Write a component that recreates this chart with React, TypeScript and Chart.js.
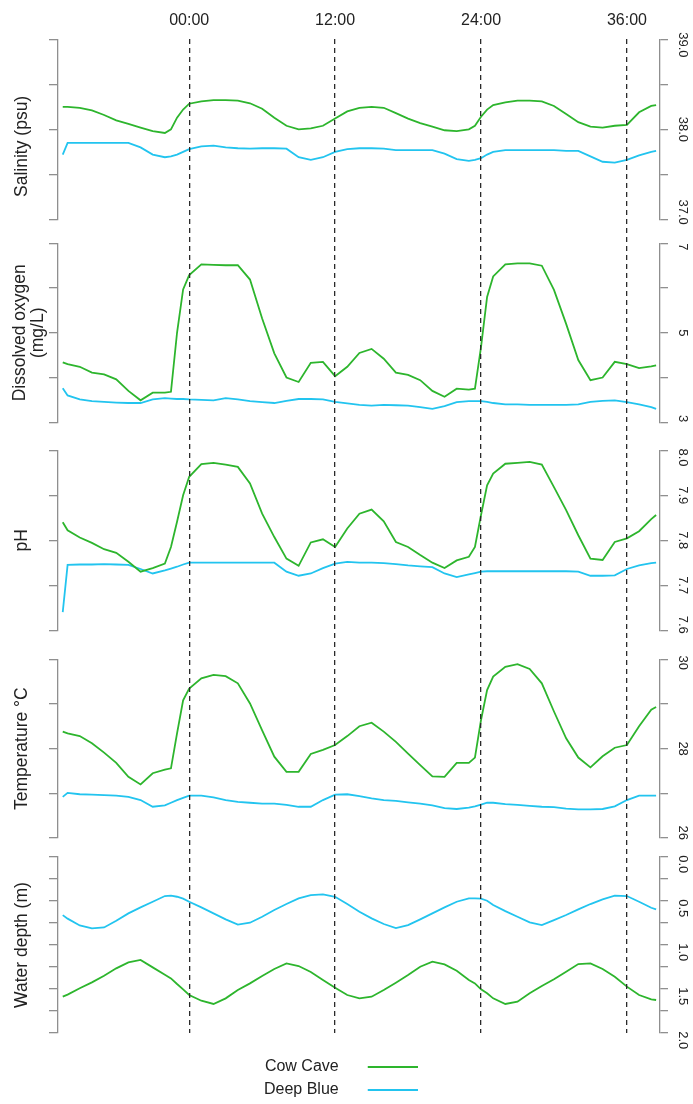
import React, { useEffect, useRef } from 'react';
import { Chart, registerables } from 'chart.js';

Chart.register(...registerables);

const FONT = "'Liberation Sans', Arial, Helvetica, sans-serif";
const GREEN = '#2db52d';
const BLUE = '#22c4ef';
const AXIS_GREY = '#8f8f8f';
const TEXT = '#222222';

// ---- time axis (hours relative to 00:00) ----
const X_MIN = -10.79;
const X_MAX = 38.72;
const TIME_TICKS = [0, 12, 24, 36];
const TIME_LABELS = ['00:00', '12:00', '24:00', '36:00'];

const TIMES = [
  -10.4, -10, -9, -8, -7, -6, -5, -4, -3, -2,
  -1.5, -1, -0.5,
  0, 1, 2, 3, 4, 5, 6, 7, 8, 9, 10, 11,
  12, 13, 14, 15, 16, 17, 18, 19, 20, 21, 22, 23,
  23.5, 24, 24.5,
  25, 26, 27, 28, 29, 30, 31, 32, 33, 34, 35, 36, 37, 38, 38.4,
];

// ---- Salinity (psu) ----
const SAL_CC = [
  38.25, 38.25, 38.24, 38.21, 38.16, 38.10, 38.06, 38.02, 37.98, 37.96,
  38.00, 38.13, 38.22,
  38.285, 38.31, 38.325, 38.325, 38.32, 38.29, 38.23, 38.13, 38.04, 38.00, 38.01, 38.04,
  38.12, 38.20, 38.24, 38.25, 38.24, 38.18, 38.12, 38.07, 38.03, 37.99, 37.98, 38.00,
  38.04, 38.14, 38.22,
  38.27, 38.30, 38.32, 38.32, 38.31, 38.26, 38.17, 38.08, 38.03, 38.02, 38.04, 38.05, 38.19, 38.26, 38.27,
];
const SAL_DB = [
  37.72, 37.85, 37.85, 37.85, 37.85, 37.85, 37.85, 37.80, 37.72, 37.69,
  37.70, 37.72, 37.75,
  37.78, 37.81, 37.82, 37.80, 37.79, 37.785, 37.79, 37.79, 37.785, 37.69, 37.66, 37.69,
  37.75, 37.78, 37.79, 37.79, 37.785, 37.77, 37.77, 37.77, 37.77, 37.73, 37.67, 37.65,
  37.66, 37.68, 37.72,
  37.75, 37.77, 37.77, 37.77, 37.77, 37.77, 37.76, 37.76, 37.70, 37.64, 37.63, 37.66, 37.71, 37.75, 37.76,
];

// ---- Dissolved oxygen (mg/L) ----
const DO_CC = [
  4.34, 4.30, 4.24, 4.11, 4.07, 3.96, 3.70, 3.49, 3.66, 3.66,
  3.68, 5.00, 5.97,
  6.29, 6.53, 6.52, 6.51, 6.51, 6.19, 5.32, 4.54, 4.00, 3.90, 4.33, 4.35,
  4.03, 4.24, 4.55, 4.64, 4.42, 4.11, 4.06, 3.94, 3.70, 3.57, 3.75, 3.73,
  3.75, 4.68, 5.80,
  6.26, 6.53, 6.55, 6.55, 6.50, 5.96, 5.20, 4.39, 3.94, 4.00, 4.35, 4.30, 4.21, 4.25, 4.27,
];
const DO_DB = [
  3.76, 3.60, 3.51, 3.47, 3.455, 3.44, 3.43, 3.43, 3.51, 3.54,
  3.53, 3.52, 3.52,
  3.51, 3.50, 3.49, 3.54, 3.51, 3.47, 3.45, 3.43, 3.48, 3.52, 3.52, 3.51,
  3.455, 3.42, 3.39, 3.37, 3.39, 3.38, 3.37, 3.34, 3.30, 3.36, 3.45, 3.47,
  3.47, 3.47, 3.455,
  3.43, 3.40, 3.40, 3.39, 3.39, 3.39, 3.39, 3.40, 3.455, 3.48, 3.49, 3.45, 3.40, 3.34, 3.30,
];

// ---- pH ----
const PH_CC = [
  7.84, 7.822, 7.806, 7.794, 7.78, 7.772, 7.752, 7.73, 7.738, 7.748,
  7.785, 7.841, 7.90,
  7.941, 7.969, 7.972, 7.968, 7.963, 7.926, 7.859, 7.807, 7.759, 7.743, 7.795, 7.802,
  7.785, 7.826, 7.859, 7.868, 7.842, 7.796, 7.785, 7.767, 7.75, 7.738, 7.755, 7.763,
  7.785, 7.856, 7.922,
  7.948, 7.97, 7.972, 7.974, 7.968, 7.918, 7.867, 7.811, 7.759, 7.756, 7.796, 7.804, 7.82, 7.847, 7.856,
];
const PH_DB = [
  7.64, 7.745, 7.746, 7.746, 7.747, 7.746, 7.745, 7.736, 7.726, 7.733,
  7.737, 7.741, 7.746,
  7.75, 7.75, 7.75, 7.75, 7.75, 7.75, 7.75, 7.75, 7.73, 7.721, 7.726, 7.738,
  7.748, 7.752, 7.75, 7.75, 7.749, 7.747, 7.744, 7.742, 7.74, 7.726, 7.718, 7.724,
  7.727, 7.73, 7.731,
  7.731, 7.731, 7.731, 7.731, 7.731, 7.731, 7.731, 7.73, 7.721, 7.721, 7.722, 7.736, 7.744, 7.749, 7.75,
];

// ---- Temperature (°C) ----
const T_CC = [
  28.38, 28.34, 28.28, 28.12, 27.91, 27.68, 27.37, 27.20, 27.45, 27.53,
  27.56, 28.34, 29.08,
  29.34, 29.57, 29.65, 29.62, 29.46, 29.01, 28.41, 27.82, 27.48, 27.48, 27.88, 27.97,
  28.08, 28.28, 28.50, 28.58, 28.38, 28.15, 27.89, 27.63, 27.38, 27.37, 27.68, 27.68,
  27.80, 28.64, 29.31,
  29.61, 29.83, 29.89, 29.78, 29.46, 28.83, 28.23, 27.80, 27.58, 27.83, 28.02, 28.08, 28.50, 28.87, 28.93,
];
const T_DB = [
  26.92, 27.01, 26.98, 26.97, 26.96, 26.95, 26.92, 26.85, 26.70, 26.73,
  26.79, 26.85, 26.90,
  26.95, 26.95, 26.91, 26.85, 26.81, 26.79, 26.77, 26.77, 26.74, 26.70, 26.70, 26.85,
  26.97, 26.98, 26.94, 26.89, 26.85, 26.83, 26.80, 26.77, 26.73, 26.67, 26.65, 26.68,
  26.71, 26.75, 26.79,
  26.79, 26.76, 26.74, 26.72, 26.70, 26.69, 26.66, 26.64, 26.64, 26.65, 26.71, 26.85, 26.95, 26.95, 26.95,
];

// ---- Water depth (m) ----
const D_CC = [
  1.587, 1.564, 1.492, 1.424, 1.349, 1.265, 1.197, 1.170, 1.254, 1.337,
  1.379, 1.443, 1.504,
  1.568, 1.633, 1.670, 1.606, 1.511, 1.436, 1.352, 1.273, 1.208, 1.239, 1.307, 1.398,
  1.485, 1.568, 1.606, 1.587, 1.511, 1.428, 1.341, 1.246, 1.189, 1.220, 1.292, 1.398,
  1.436, 1.504, 1.549,
  1.606, 1.670, 1.644, 1.549, 1.466, 1.390, 1.303, 1.216, 1.208, 1.273, 1.360, 1.473, 1.568, 1.617, 1.625,
];
const D_DB = [
  0.66, 0.70, 0.777, 0.81, 0.80, 0.723, 0.64, 0.572, 0.508, 0.443,
  0.439, 0.451, 0.473,
  0.508, 0.572, 0.64, 0.708, 0.768, 0.746, 0.678, 0.602, 0.534, 0.470, 0.432, 0.424,
  0.451, 0.534, 0.621, 0.697, 0.761, 0.807, 0.773, 0.708, 0.640, 0.572, 0.508, 0.470,
  0.470, 0.473, 0.496,
  0.545, 0.614, 0.678, 0.742, 0.773, 0.716, 0.659, 0.595, 0.534, 0.481, 0.439, 0.443, 0.508, 0.576, 0.595,
];

// ---- axis ticks / labels ----
const SAL_TICKS = [37, 37.5, 38, 38.5, 39];
const SAL_LABELS = ['37.0', '', '38.0', '', '39.0'];
const DO_TICKS = [3, 4, 5, 6, 7];
const DO_LABELS = ['3', '', '5', '', '7'];
const PH_TICKS = [7.6, 7.7, 7.8, 7.9, 8.0];
const PH_LABELS = ['7.6', '7.7', '7.8', '7.9', '8.0'];
const T_TICKS = [26, 27, 28, 29, 30];
const T_LABELS = ['26', '', '28', '', '30'];
const D_TICKS = [0, 0.25, 0.5, 0.75, 1, 1.25, 1.5, 1.75, 2];
const D_LABELS = ['0.0', '', '0.5', '', '1.0', '', '1.5', '', '2.0'];

const SERIES_NAMES = ['Cow Cave', 'Deep Blue'];
const SERIES_COLORS = [GREEN, BLUE];

// panel layout: pixel heights, title padding, label padding, label nudges (spaces before / after, per tick)
const PANELS: any[] = [
  { id: 'sal', min: 37, max: 39, ticks: SAL_TICKS, labels: SAL_LABELS, title: 'Salinity (psu)       ', tpad: { top: 13.5, bottom: 0 }, size: 180, lpad: -5.35,
    lead: [0, 0, 0, 0, 3], trail: [4, 0, 0, 0, 0], data: [SAL_CC, SAL_DB] },
  { id: 'do', min: 3, max: 7, ticks: DO_TICKS, labels: DO_LABELS, title: ['Dissolved oxygen', '(mg/L)'], tpad: { top: 11.5, bottom: 0 }, size: 179, lpad: 7.3,
    lead: [0, 0, 0, 0, 2], trail: [2, 0, 0, 0, 0], data: [DO_CC, DO_DB] },
  { id: 'ph', min: 7.6, max: 8.0, ticks: PH_TICKS, labels: PH_LABELS, title: 'pH', tpad: { top: 13.5, bottom: 0 }, size: 180, lpad: -1.75,
    lead: [0, 0, 0, 0, 4], trail: [3, 0, 0, 0, 0], data: [PH_CC, PH_DB] },
  { id: 'tmp', min: 26, max: 30, ticks: T_TICKS, labels: T_LABELS, title: 'Temperature °C', tpad: { top: 13.5, bottom: 0 }, size: 179, lpad: 1.85,
    lead: [0, 0, 0, 0, 2], trail: [3, 0, 0, 0, 0], data: [T_CC, T_DB] },
  { id: 'dep', min: 0, max: 2, ticks: D_TICKS, labels: D_LABELS, title: 'Water depth (m)', tpad: { top: 13.5, bottom: 0 }, size: 176, lpad: -1.75, reverse: true,
    lead: [4, 4, 4, 4, 4, 4, 4, 4, 4], trail: [0, 0, 0, 0, 0, 0, 0, 0, 0], data: [D_CC, D_DB] },
];
const GAPS = [24, 28, 29, 19];
const LEFT_W = 58;
const RIGHT_W = 33;

function spacer(position: string, stack: string, size: number, weight: number, w: number) {
  return {
    type: 'linear', position, stack, stackWeight: size, weight, min: 0, max: 1, display: true,
    grid: { display: false, drawTicks: false },
    border: { display: false },
    ticks: { display: false },
    afterFit: (s: any) => { s.width = w; },
  };
}

function mainConfig(): any {
  const scales: any = {
    x: {
      type: 'linear', position: 'top', min: X_MIN, max: X_MAX,
      afterBuildTicks: (ax: any) => { ax.ticks = TIME_TICKS.map((v) => ({ value: v })); },
      ticks: {
        autoSkip: false, maxRotation: 0, minRotation: 0, padding: 9.4, color: TEXT,
        font: { family: FONT, size: 16 },
        callback: (_v: any, i: number) => TIME_LABELS[i],
      },
      grid: { drawTicks: false, drawOnChartArea: true, color: '#2a2a2a', lineWidth: 1.3, z: 1 },
      border: { display: false, dash: [5, 4] },
    },
  };
  let wL = 100;
  let wR = 0;
  PANELS.forEach((p, k) => {
    const build = (ax: any) => { ax.ticks = p.ticks.map((v: number) => ({ value: v })); };
    scales[p.id + 'L'] = {
      type: 'linear', position: 'left', stack: 'L', stackWeight: p.size, weight: wL--,
      min: p.min, max: p.max, reverse: !!p.reverse,
      afterBuildTicks: build,
      afterFit: (s: any) => { s.width = LEFT_W; },
      ticks: { display: false },
      grid: { drawOnChartArea: false, drawTicks: true, tickLength: 9, color: AXIS_GREY, lineWidth: 1.3 },
      border: { display: true, color: AXIS_GREY, width: 1.3 },
      title: { display: true, text: p.title, color: TEXT, font: { family: FONT, size: 17.5, lineHeight: 1 }, padding: p.tpad },
    };
    scales[p.id + 'R'] = {
      type: 'linear', position: 'right', stack: 'R', stackWeight: p.size, weight: wR++,
      min: p.min, max: p.max, reverse: !!p.reverse,
      afterBuildTicks: build,
      afterFit: (s: any) => { s.width = RIGHT_W; },
      ticks: {
        display: true, autoSkip: false, minRotation: -90, maxRotation: -90, crossAlign: 'center',
        padding: p.lpad, color: TEXT, font: { family: FONT, size: 13 },
        callback: (_v: any, i: number) => (p.labels[i] ? ' '.repeat(p.lead[i]) + p.labels[i] + ' '.repeat(p.trail[i]) : ''),
      },
      grid: { drawOnChartArea: false, drawTicks: true, tickLength: 8, color: AXIS_GREY, lineWidth: 1.3 },
      border: { display: true, color: AXIS_GREY, width: 1.3 },
    };
    if (k < GAPS.length) {
      scales['gap' + k + 'L'] = spacer('left', 'L', GAPS[k], wL--, LEFT_W);
      scales['gap' + k + 'R'] = spacer('right', 'R', GAPS[k], wR++, RIGHT_W);
    }
  });

  const datasets: any[] = [];
  PANELS.forEach((p) => {
    p.data.forEach((vals: number[], si: number) => {
      datasets.push({
        label: SERIES_NAMES[si],
        data: vals.map((y, i) => ({ x: TIMES[i], y })),
        yAxisID: p.id + 'R',
        borderColor: SERIES_COLORS[si],
        backgroundColor: SERIES_COLORS[si],
        borderWidth: 1.8,
        pointRadius: 0,
        tension: 0,
        fill: false,
      });
    });
  });

  return {
    type: 'line',
    data: { datasets },
    options: {
      responsive: false,
      animation: false,
      events: [],
      layout: { padding: { top: 1.4, bottom: 20, left: 0, right: 0 } },
      scales,
      plugins: { legend: { display: false }, tooltip: { enabled: false } },
    },
  };
}

function lineSwatch(color: string): HTMLCanvasElement {
  const c = document.createElement('canvas');
  c.width = 71;
  c.height = 2;
  const g = c.getContext('2d');
  if (g) {
    g.fillStyle = color;
    g.fillRect(21, 0, 50, 2);
  }
  return c;
}

function legendConfig(): any {
  const swatches = SERIES_COLORS.map((c) => lineSwatch(c));
  return {
    type: 'line',
    data: {
      datasets: SERIES_NAMES.map((n, i) => ({ label: n, data: [], borderColor: SERIES_COLORS[i], backgroundColor: SERIES_COLORS[i] })),
    },
    options: {
      responsive: false,
      animation: false,
      events: [],
      layout: { padding: 0 },
      scales: { x: { display: false }, y: { display: false } },
      plugins: {
        tooltip: { enabled: false },
        legend: {
          position: 'left',
          align: 'start',
          rtl: true,
          labels: {
            usePointStyle: true,
            pointStyleWidth: 71,
            padding: 7,
            color: TEXT,
            font: { family: FONT, size: 16 },
            generateLabels: (chart: any) => chart.data.datasets.map((d: any, i: number) => ({
              text: d.label,
              fillStyle: SERIES_COLORS[i],
              strokeStyle: SERIES_COLORS[i],
              lineWidth: 0,
              pointStyle: swatches[i],
              hidden: false,
              datasetIndex: i,
              fontColor: TEXT,
            })),
          },
        },
      },
    },
  };
}

export default function App() {
  const mainRef = useRef<HTMLCanvasElement>(null);
  const legRef = useRef<HTMLCanvasElement>(null);
  useEffect(() => {
    const main = new Chart(mainRef.current as HTMLCanvasElement, mainConfig());
    const leg = new Chart(legRef.current as HTMLCanvasElement, legendConfig());
    return () => {
      main.destroy();
      leg.destroy();
    };
  }, []);
  return (
    <div style={{ position: 'absolute', left: 0, top: 0, width: 693, height: 1104, background: '#ffffff' }}>
      <canvas ref={mainRef} width={693} height={1053} style={{ position: 'absolute', left: 0, top: 0, width: 693, height: 1053 }} />
      <canvas ref={legRef} width={380} height={60} style={{ position: 'absolute', left: 254, top: 1052, width: 380, height: 60 }} />
    </div>
  );
}
